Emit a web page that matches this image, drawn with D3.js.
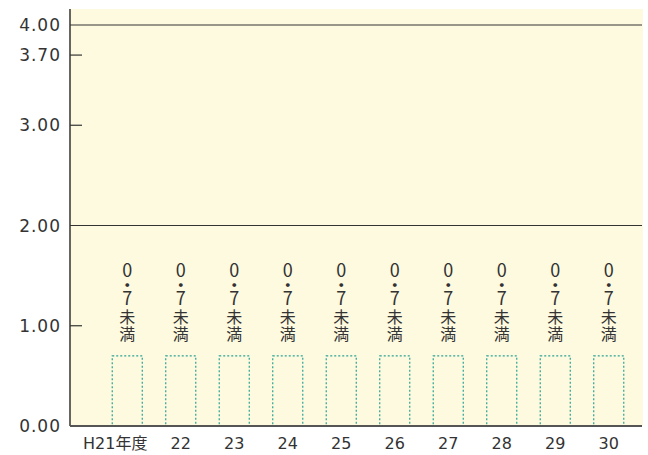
<!DOCTYPE html>
<html>
<head>
<meta charset="utf-8">
<script src="https://cdn.jsdelivr.net/npm/d3@7"></script>
<style>
  body { margin: 0; background: #fff; }
  text { font-family: "DejaVu Sans", "Noto Sans CJK JP", sans-serif; fill: #333; }
  .vlab { font-family: "Noto Sans CJK JP", sans-serif; }
</style>
</head>
<body>
<div id="chart"></div>
<script>
var years = ["H21年度", "22", "23", "24", "25", "26", "27", "28", "29", "30"];
var values = [0.7, 0.7, 0.7, 0.7, 0.7, 0.7, 0.7, 0.7, 0.7, 0.7];
var barLabel = ["0", "・", "7", "未", "満"];
var yTicks = [0, 1, 2, 3, 3.7, 4];
var gridTicks = [2, 4];

var width = 648, height = 455;

var svg = d3.select("#chart").append("svg")
  .attr("width", width)
  .attr("height", height);

var y = d3.scaleLinear().domain([0, 4]).range([426, 25]);
var x = d3.scaleBand().domain(years).range([100.5, 635.5]).paddingInner(0.42).paddingOuter(0.21);

// background
svg.append("rect")
  .attr("x", 70).attr("y", 9)
  .attr("width", 573).attr("height", y(0) - 9)
  .attr("fill", "#fefadf");

// grid lines
svg.selectAll(".grid").data(gridTicks).enter().append("line")
  .attr("x1", 70).attr("x2", 642)
  .attr("y1", function(d) { return y(d); })
  .attr("y2", function(d) { return y(d); })
  .attr("stroke", "#333").attr("stroke-width", 1.2);

// bars (dotted)
svg.selectAll(".bar").data(values).enter().append("rect")
  .attr("x", function(d, i) { return x(years[i]) + 0.5; })
  .attr("y", function(d) { return y(d); })
  .attr("width", x.bandwidth() - 1)
  .attr("height", function(d) { return y(0) - y(d); })
  .attr("fill", "none")
  .attr("stroke", "#2aa396")
  .attr("stroke-width", 1.2)
  .attr("stroke-dasharray", "2,2");

// vertical labels above bars, one character per line
var charY = [277, 292, 305, 323, 340];
years.forEach(function(yr) {
  var cx = x(yr) + x.bandwidth() / 2;
  var t = svg.append("text").attr("class", "vlab").attr("text-anchor", "middle");
  barLabel.forEach(function(c, j) {
    t.append("tspan").attr("x", cx).attr("y", charY[j])
      .attr("font-size", j < 3 ? 18 : 16)
      .text(c);
  });
});

// y axis line
svg.append("line")
  .attr("x1", 70).attr("x2", 70).attr("y1", 9).attr("y2", y(0))
  .attr("stroke", "#333").attr("stroke-width", 1.5);

// x axis line
svg.append("line")
  .attr("x1", 70).attr("x2", 642).attr("y1", y(0)).attr("y2", y(0))
  .attr("stroke", "#555").attr("stroke-width", 2);

// y ticks
svg.selectAll(".tick").data([1, 3, 3.7]).enter().append("line")
  .attr("x1", 70).attr("x2", 82)
  .attr("y1", function(d) { return y(d); })
  .attr("y2", function(d) { return y(d); })
  .attr("stroke", "#333").attr("stroke-width", 1.2);

svg.selectAll(".ylab").data(yTicks).enter().append("text")
  .attr("x", 61)
  .attr("y", function(d) { return y(d) + 6; })
  .attr("text-anchor", "end")
  .attr("font-size", 17)
  .attr("letter-spacing", 1)
  .text(function(d) { return d3.format(".2f")(d); });

// x labels
svg.selectAll(".xlab").data(years).enter().append("text")
  .attr("x", function(d, i) { return x(d) + x.bandwidth() / 2 + (i == 0 ? -12 : 0); })
  .attr("y", 449)
  .attr("text-anchor", "middle")
  .attr("font-size", 16)
  .text(function(d) { return d; });
</script>
</body>
</html>
